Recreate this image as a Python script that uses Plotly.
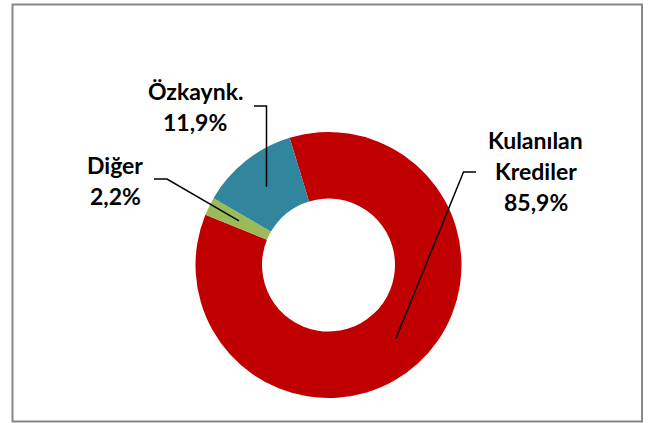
import math
import plotly.graph_objects as go

# ---- data ----
labels = ["Kulanılan Krediler", "Diğer", "Özkaynk."]
values = [85.9, 2.2, 11.9]
colors = ["#C00000", "#9BBB59", "#31859C"]
label_lines = [["Kulanılan", "Krediler"], ["Diğer"], ["Özkaynk."]]

# ---- layout constants (pixels) ----
W, H = 653, 423
CX, CY, R = 328.5, 265.0, 133.0
HOLE = 0.5
ROT = -17.0  # degrees, clockwise positive

# label text centre (x) and first-line centre (y), line spacing
label_pos = [(535.5, 140.0), (115.0, 165.0), (195.0, 90.5)]
LINE_STEP = 31.0
# leader-line elbow and end points
leader_pts = [[(463.5, 172.0), (476.0, 172.0)],
              [(167.0, 179.0), (154.0, 179.0)],
              [(266.5, 106.0), (254.0, 106.0)]]

def px(x):
    return x / W

def py(y):
    return 1 - y / H

fig = go.Figure(go.Pie(
    labels=labels, values=values, hole=HOLE, sort=False,
    direction="clockwise", rotation=ROT,
    marker=dict(colors=colors, line=dict(width=0)),
    textinfo="none", showlegend=False,
    domain=dict(x=[px(CX - R), px(CX + R)], y=[py(CY + R), py(CY - R)]),
))

total = sum(values)
cum = 0.0
shapes = []
annotations = []
rmid = R * (1 + HOLE) / 2
FONT = dict(family="Lato", size=23, color="#000000")
for i, v in enumerate(values):
    mid = ROT + (cum + v / 2) / total * 360.0
    cum += v
    a = math.radians(mid)
    ax, ay = CX + rmid * math.sin(a), CY - rmid * math.cos(a)
    pts = [(ax, ay)] + leader_pts[i]
    path = "M " + " L ".join(f"{px(x):.5f},{py(y):.5f}" for x, y in pts)
    shapes.append(dict(type="path", xref="paper", yref="paper", path=path,
                       line=dict(color="#000000", width=1.5)))
    lines = label_lines[i] + [f"{v:.1f}%".replace(".", ",")]
    lx, ly = label_pos[i]
    for k, t in enumerate(lines):
        annotations.append(dict(text=f"<b>{t}</b>", x=px(lx), y=py(ly + k * LINE_STEP),
                                xref="paper", yref="paper", showarrow=False,
                                xanchor="center", yanchor="middle", font=FONT))

# chart-area frame
shapes.append(dict(type="rect", xref="paper", yref="paper",
                   x0=px(12.5), x1=px(642.0), y0=py(421.5), y1=py(4.5),
                   line=dict(color="#878787", width=2), fillcolor="rgba(0,0,0,0)"))

fig.update_layout(width=W, height=H, margin=dict(l=0, r=0, t=0, b=0),
                  paper_bgcolor="#ffffff", plot_bgcolor="#ffffff",
                  shapes=shapes, annotations=annotations)
fig.write_html("out.html", config={"displayModeBar": False},
               post_script="document.body.style.margin='0';document.body.style.overflow='hidden';")
